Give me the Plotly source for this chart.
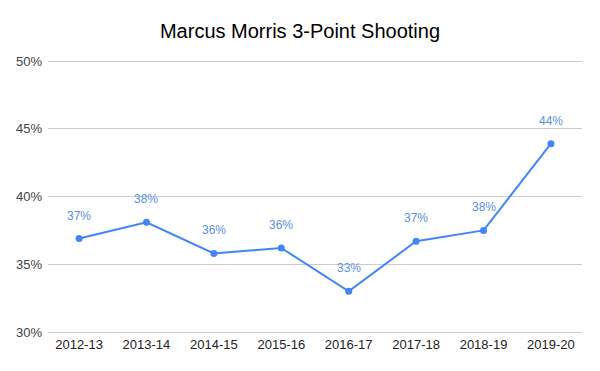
import plotly.graph_objects as go

seasons = ["2012-13", "2013-14", "2014-15", "2015-16", "2016-17", "2017-18", "2018-19", "2019-20"]
three_pt_pct = [0.369, 0.381, 0.358, 0.362, 0.330, 0.367, 0.375, 0.439]
y_ticks = [0.30, 0.35, 0.40, 0.45, 0.50]

blue = "#4285F4"
label_blue = "#5b8fe6"
font_family = "Arial, 'Liberation Sans', sans-serif"

# page body has an 8px default margin, so the figure is sized to fit the 600x371 window
fig_w, fig_h = 592, 363
pad = 2  # px of padding so gridlines at the range ends are drawn
px_per_unit = 0.20 / 271
y_range = [0.30 - pad * px_per_unit, 0.50 + pad * px_per_unit]

fig = go.Figure()
fig.add_trace(go.Scatter(
    x=seasons, y=three_pt_pct, mode="lines+markers",
    line=dict(color=blue, width=2),
    marker=dict(color=blue, size=7),
    hoverinfo="skip", showlegend=False, cliponaxis=False,
))

for s, v in zip(seasons, three_pt_pct):
    fig.add_annotation(x=s, y=v, text=f"{round(v*100):d}%", showarrow=False,
                       yshift=23, font=dict(family=font_family, size=12, color=label_blue))

fig.update_layout(
    width=fig_w, height=fig_h,
    margin=dict(l=40, r=18, t=53 - pad, b=39 - pad, autoexpand=False),
    paper_bgcolor="white", plot_bgcolor="white",
    title=dict(text="Marcus Morris 3-Point Shooting", x=(300 - 8) / fig_w, xanchor="center",
               y=1 - 23 / fig_h, yanchor="middle",
               font=dict(family=font_family, size=20, color="#000000")),
    xaxis=dict(showgrid=False, showline=False, zeroline=False, ticks="",
               automargin=False, ticklabelstandoff=1,
               tickfont=dict(family=font_family, size=13, color="#222222")),
    yaxis=dict(range=y_range, tickvals=y_ticks, tickformat=".0%",
               showgrid=True, gridcolor="#cccccc", gridwidth=1, zeroline=False,
               showline=False, ticks="", ticklabelstandoff=5, automargin=False,
               tickfont=dict(family=font_family, size=13, color="#444444")),
)

fig.write_html("out.html")
